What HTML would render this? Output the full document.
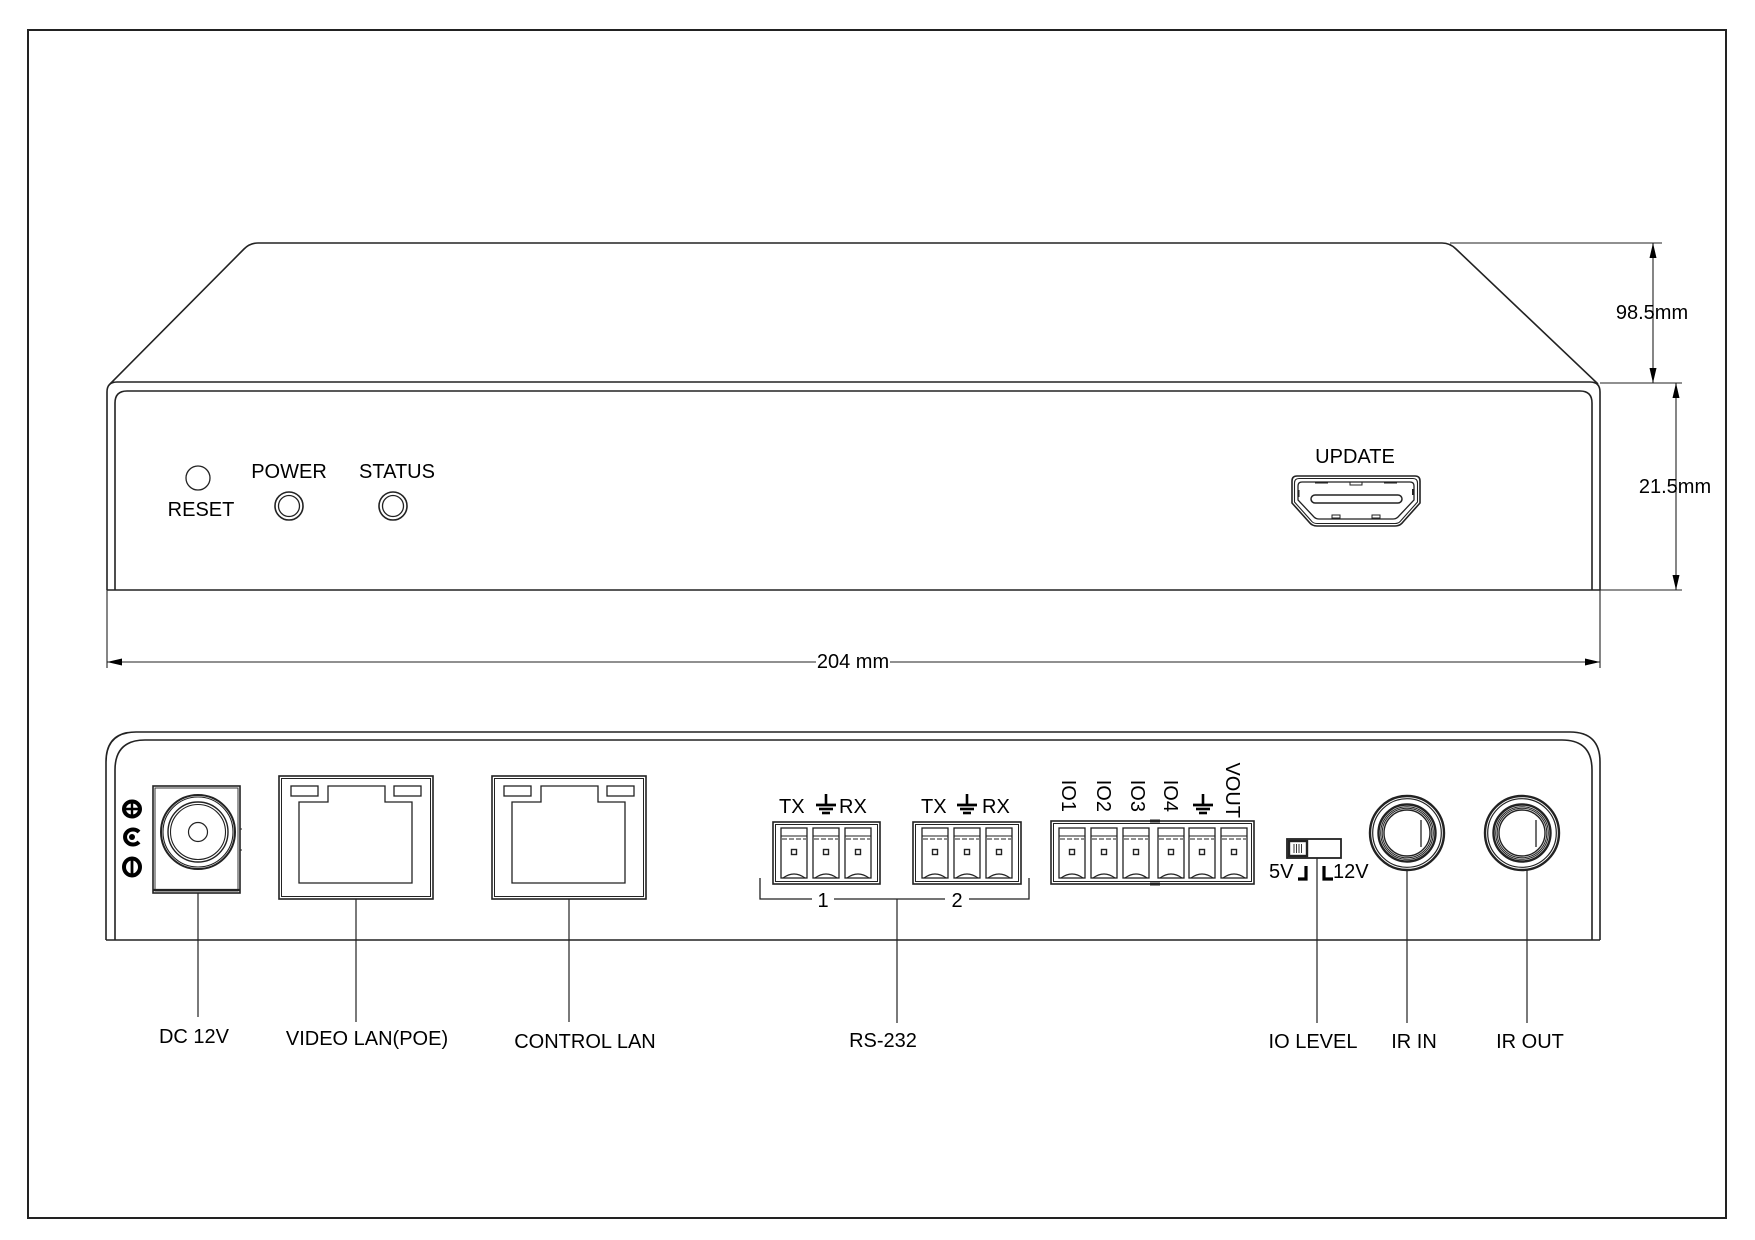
<!DOCTYPE html>
<html><head><meta charset="utf-8"><style>
html,body{margin:0;padding:0;background:#fff;}
svg{display:block;}
text{font-family:"Liberation Sans",Arial,sans-serif;font-size:20px;fill:#000;}
</style></head><body>
<svg width="1755" height="1240" viewBox="0 0 1755 1240" xmlns="http://www.w3.org/2000/svg">
<rect x="0" y="0" width="1755" height="1240" fill="#fff"/>
<!-- page border -->
<rect x="28" y="30" width="1698" height="1188" fill="none" stroke="#222" stroke-width="2"/>

<g fill="none" stroke="#222" stroke-width="1.6">
<!-- ============ FRONT VIEW ============ -->
<path d="M110,384 L244,249 Q250,243 258,243 L1442,243 Q1450,243 1456,249 L1598,384"/>
<line x1="1450" y1="243" x2="1662" y2="243" stroke-width="1.1"/>
<path d="M107,590 L107,392 Q107,382 117,382 L1590,382 Q1600,382 1600,392 L1600,590"/>
<path d="M115,590 L115,403 Q115,391 127,391 L1580,391 Q1592,391 1592,403 L1592,590"/>
<line x1="107" y1="590" x2="1600" y2="590"/>
<line x1="1600" y1="383" x2="1682" y2="383" stroke-width="1.1"/>
<line x1="1600" y1="590" x2="1682" y2="590" stroke-width="1.1"/>
<line x1="107" y1="590" x2="107" y2="668" stroke-width="1.1"/>
<line x1="1600" y1="590" x2="1600" y2="668" stroke-width="1.1"/>
<line x1="1653" y1="243" x2="1653" y2="383" stroke-width="1.1"/>
<line x1="1676" y1="383" x2="1676" y2="590" stroke-width="1.1"/>
<line x1="107" y1="662" x2="816" y2="662" stroke-width="1.1"/>
<line x1="890" y1="662" x2="1600" y2="662" stroke-width="1.1"/>

<circle cx="198" cy="478" r="12" stroke-width="1.3"/>
<circle cx="289" cy="506" r="14" stroke-width="1.6"/>
<circle cx="289" cy="506" r="10.5" stroke-width="1.3"/>
<circle cx="393" cy="506" r="14" stroke-width="1.6"/>
<circle cx="393" cy="506" r="10.5" stroke-width="1.3"/>

<!-- HDMI -->
<path d="M1297,476 L1415,476 Q1420,476 1420,481 L1420,503 L1403,522 Q1400,526 1395,526 L1317,526 Q1312,526 1309,522 L1292,503 L1292,481 Q1292,476 1297,476 Z" stroke-width="1.6"/>
<path d="M1299,478.5 L1413,478.5 Q1417.5,478.5 1417.5,483 L1417.5,502 L1401,520.5 Q1399,523.5 1395,523.5 L1317,523.5 Q1313,523.5 1311,520.5 L1294.5,502 L1294.5,483 Q1294.5,478.5 1299,478.5 Z" stroke-width="1.1"/>
<path d="M1302,482 L1410,482 Q1414,482 1414,486 L1414,500 L1398,517 Q1396,519 1393,519 L1319,519 Q1316,519 1314,517 L1298,500 L1298,486 Q1298,482 1302,482 Z" stroke-width="1.3"/>
<rect x="1311" y="495" width="91" height="8" rx="4" stroke-width="1.5"/>
<rect x="1350" y="482" width="12" height="3" stroke-width="1"/>
<rect x="1332" y="515" width="8" height="3" stroke-width="1"/>
<rect x="1372" y="515" width="8" height="3" stroke-width="1"/>
<line x1="1315" y1="482.5" x2="1328" y2="482.5" stroke-width="2"/>
<line x1="1384" y1="482.5" x2="1397" y2="482.5" stroke-width="2"/>
<line x1="1299" y1="490" x2="1299" y2="497" stroke-width="1"/>
<line x1="1413" y1="489" x2="1413" y2="495" stroke-width="2"/>

<!-- ============ REAR VIEW ============ -->
<path d="M106,940 L106,762 Q106,732 136,732 L1570,732 Q1600,732 1600,762 L1600,940"/>
<path d="M115,940 L115,770 Q115,740 145,740 L1562,740 Q1592,740 1592,770 L1592,940"/>
<line x1="106" y1="940" x2="1600" y2="940"/>

<!-- DC jack -->
<rect x="153" y="786" width="87" height="107" stroke-width="1.6"/>
<rect x="155" y="788" width="83" height="103" stroke-width="0.9"/>
<line x1="153" y1="890" x2="240" y2="890" stroke-width="2.2"/>
<circle cx="198" cy="832" r="37" stroke-width="2"/>
<circle cx="198" cy="832" r="35" stroke-width="1.1"/>
<circle cx="198" cy="832" r="30" stroke-width="1.4"/>
<circle cx="198" cy="832" r="27.5" stroke-width="1.1"/>
<circle cx="198" cy="832" r="9.5" stroke-width="1.2"/>
<line x1="240" y1="829" x2="242" y2="829" stroke-width="1"/>
<line x1="240" y1="850" x2="242" y2="850" stroke-width="1"/>
<!-- polarity symbols -->
<ellipse cx="132" cy="809" rx="8" ry="7.5" stroke="#000" stroke-width="4"/>
<line x1="123" y1="809" x2="141" y2="809" stroke="#000" stroke-width="2.4"/>
<line x1="132" y1="801" x2="132" y2="817" stroke="#000" stroke-width="2.4"/>
<path d="M139,832 A8,7.5 0 1 0 139,842" stroke="#000" stroke-width="4"/>
<circle cx="132" cy="837" r="3" fill="#000" stroke="none"/>
<ellipse cx="132" cy="867" rx="8" ry="8.5" stroke="#000" stroke-width="4"/>
<line x1="132" y1="858" x2="132" y2="876" stroke="#000" stroke-width="2.8"/>

<!-- VIDEO LAN -->
<rect x="279" y="776" width="154" height="123" stroke-width="1.6"/>
<rect x="281.5" y="778.5" width="149" height="118" stroke-width="1"/>
<path d="M299,802 L328,802 L328,786 L385,786 L385,802 L412,802 L412,883 L299,883 Z" stroke-width="1.3"/>
<rect x="291" y="786" width="27" height="10" stroke-width="1.3"/>
<rect x="394" y="786" width="27" height="10" stroke-width="1.3"/>
<!-- CONTROL LAN -->
<rect x="492" y="776" width="154" height="123" stroke-width="1.6"/>
<rect x="494.5" y="778.5" width="149" height="118" stroke-width="1"/>
<path d="M512,802 L541,802 L541,786 L598,786 L598,802 L625,802 L625,883 L512,883 Z" stroke-width="1.3"/>
<rect x="504" y="786" width="27" height="10" stroke-width="1.3"/>
<rect x="607" y="786" width="27" height="10" stroke-width="1.3"/>

<!-- RS-232 blocks -->
<rect x="773" y="822" width="107" height="62" stroke-width="1.6"/>
<rect x="775.5" y="824.5" width="102" height="57" stroke-width="1"/>
<rect x="913" y="822" width="108" height="62" stroke-width="1.6"/>
<rect x="915.5" y="824.5" width="103" height="57" stroke-width="1"/>
<!-- IO block -->
<rect x="1051" y="821" width="203" height="63" stroke-width="1.6"/>
<rect x="1053.5" y="823.5" width="198" height="58" stroke-width="1"/>
<line x1="1150" y1="821" x2="1160" y2="821" stroke-width="3"/>
<line x1="1150" y1="884" x2="1160" y2="884" stroke-width="3"/>

<!-- RS232 bracket -->
<path d="M760,878 L760,899 L812,899" stroke-width="1.3"/>
<path d="M834,899 L945,899" stroke-width="1.3"/>
<path d="M969,899 L1029,899 L1029,878" stroke-width="1.3"/>

<!-- switch -->
<rect x="1287" y="839" width="54" height="19" stroke-width="1.8"/>
<rect x="1289" y="841" width="18" height="15" stroke-width="2.4"/>
<line x1="1294" y1="844" x2="1294" y2="853" stroke-width="0.9"/>
<line x1="1296.5" y1="844" x2="1296.5" y2="853" stroke-width="0.9"/>
<line x1="1299" y1="844" x2="1299" y2="853" stroke-width="0.9"/>
<line x1="1301.5" y1="844" x2="1301.5" y2="853" stroke-width="0.9"/>
<path d="M1306,866 L1306,879 L1298,879" stroke="#000" stroke-width="3.2"/>
<path d="M1324,866 L1324,879 L1333,879" stroke="#000" stroke-width="3.2"/>

<!-- IR IN -->
<circle cx="1407" cy="833" r="37" stroke-width="2.4"/>
<circle cx="1407" cy="833" r="34.3" stroke-width="1.2"/>
<circle cx="1407" cy="833" r="28.5" stroke-width="2.4"/>
<circle cx="1407" cy="833" r="26.3" stroke-width="1"/>
<circle cx="1407" cy="833" r="24.8" stroke-width="1"/>
<circle cx="1407" cy="833" r="23" stroke-width="1.4"/>
<line x1="1421" y1="820" x2="1421" y2="847" stroke-width="1.3"/>
<!-- IR OUT -->
<circle cx="1522" cy="833" r="37" stroke-width="2.4"/>
<circle cx="1522" cy="833" r="34.3" stroke-width="1.2"/>
<circle cx="1522" cy="833" r="28.5" stroke-width="2.4"/>
<circle cx="1522" cy="833" r="26.3" stroke-width="1"/>
<circle cx="1522" cy="833" r="24.8" stroke-width="1"/>
<circle cx="1522" cy="833" r="23" stroke-width="1.4"/>
<line x1="1536" y1="820" x2="1536" y2="847" stroke-width="1.3"/>

<!-- leader lines -->
<g stroke-width="1.2">
<line x1="198" y1="893" x2="198" y2="1017"/>
<line x1="356" y1="899" x2="356" y2="1022"/>
<line x1="569" y1="899" x2="569" y2="1022"/>
<line x1="897" y1="899" x2="897" y2="1023"/>
<line x1="1317" y1="858" x2="1317" y2="1023"/>
<line x1="1407" y1="870" x2="1407" y2="1023"/>
<line x1="1527" y1="870" x2="1527" y2="1023"/>
</g>
</g>

<!-- terminals -->
<defs>
<g id="term">
<rect x="0" y="0" width="26" height="50" fill="none" stroke="#222" stroke-width="1.3"/>
<line x1="0" y1="8" x2="26" y2="8" stroke="#222" stroke-width="1.1"/>
<line x1="1" y1="11" x2="25" y2="11" stroke="#222" stroke-width="1.1" stroke-dasharray="5,2"/>
<rect x="10.5" y="21.5" width="5" height="5" fill="none" stroke="#222" stroke-width="1.4"/>
<path d="M2,50 Q13,42 24,50" fill="none" stroke="#222" stroke-width="1.3"/>
</g>
<g id="gnd" fill="none" stroke="#000">
<line x1="0" y1="-18" x2="0" y2="-7" stroke-width="2.6"/>
<line x1="-10" y1="-7" x2="10" y2="-7" stroke-width="2.8"/>
<line x1="-7" y1="-3" x2="7" y2="-3" stroke-width="2.6"/>
<line x1="-4" y1="1" x2="4" y2="1" stroke-width="2.6"/>
</g>
</defs>
<use href="#term" x="781" y="828"/>
<use href="#term" x="813" y="828"/>
<use href="#term" x="845" y="828"/>
<use href="#term" x="922" y="828"/>
<use href="#term" x="954" y="828"/>
<use href="#term" x="986" y="828"/>
<use href="#term" x="1059" y="828"/>
<use href="#term" x="1091" y="828"/>
<use href="#term" x="1123" y="828"/>
<use href="#term" x="1158" y="828"/>
<use href="#term" x="1189" y="828"/>
<use href="#term" x="1221" y="828"/>

<use href="#gnd" x="826" y="812"/>
<use href="#gnd" x="967" y="812"/>
<use href="#gnd" x="1203" y="812"/>

<!-- arrowheads -->
<g fill="#000" stroke="none">
<polygon points="1653,243 1649.5,258 1656.5,258"/>
<polygon points="1653,383 1649.5,368 1656.5,368"/>
<polygon points="1676,383 1672.5,398 1679.5,398"/>
<polygon points="1676,590 1672.5,575 1679.5,575"/>
<polygon points="107,662 122,658.5 122,665.5"/>
<polygon points="1600,662 1585,658.5 1585,665.5"/>
</g>

<!-- TEXT -->
<text x="1652" y="319" text-anchor="middle">98.5mm</text>
<text x="1675" y="493" text-anchor="middle">21.5mm</text>
<text x="853" y="668" text-anchor="middle">204 mm</text>

<text x="201" y="516" text-anchor="middle">RESET</text>
<text x="289" y="478" text-anchor="middle">POWER</text>
<text x="397" y="478" text-anchor="middle">STATUS</text>
<text x="1355" y="463" text-anchor="middle">UPDATE</text>

<text x="779" y="813">TX</text>
<text x="839" y="813">RX</text>
<text x="921" y="813">TX</text>
<text x="982" y="813">RX</text>
<text x="823" y="907" text-anchor="middle">1</text>
<text x="957" y="907" text-anchor="middle">2</text>

<text transform="translate(1062,812) rotate(90)" text-anchor="end">IO1</text>
<text transform="translate(1097,812) rotate(90)" text-anchor="end">IO2</text>
<text transform="translate(1131,812) rotate(90)" text-anchor="end">IO3</text>
<text transform="translate(1164,812) rotate(90)" text-anchor="end">IO4</text>
<text transform="translate(1226,818) rotate(90)" text-anchor="end">VOUT</text>

<text x="1269" y="878">5V</text>
<text x="1333" y="878">12V</text>

<text x="194" y="1043" text-anchor="middle">DC 12V</text>
<text x="367" y="1045" text-anchor="middle">VIDEO LAN(POE)</text>
<text x="585" y="1048" text-anchor="middle">CONTROL LAN</text>
<text x="883" y="1047" text-anchor="middle">RS-232</text>
<text x="1313" y="1048" text-anchor="middle">IO LEVEL</text>
<text x="1414" y="1048" text-anchor="middle">IR IN</text>
<text x="1530" y="1048" text-anchor="middle">IR OUT</text>
</svg>
</body></html>
